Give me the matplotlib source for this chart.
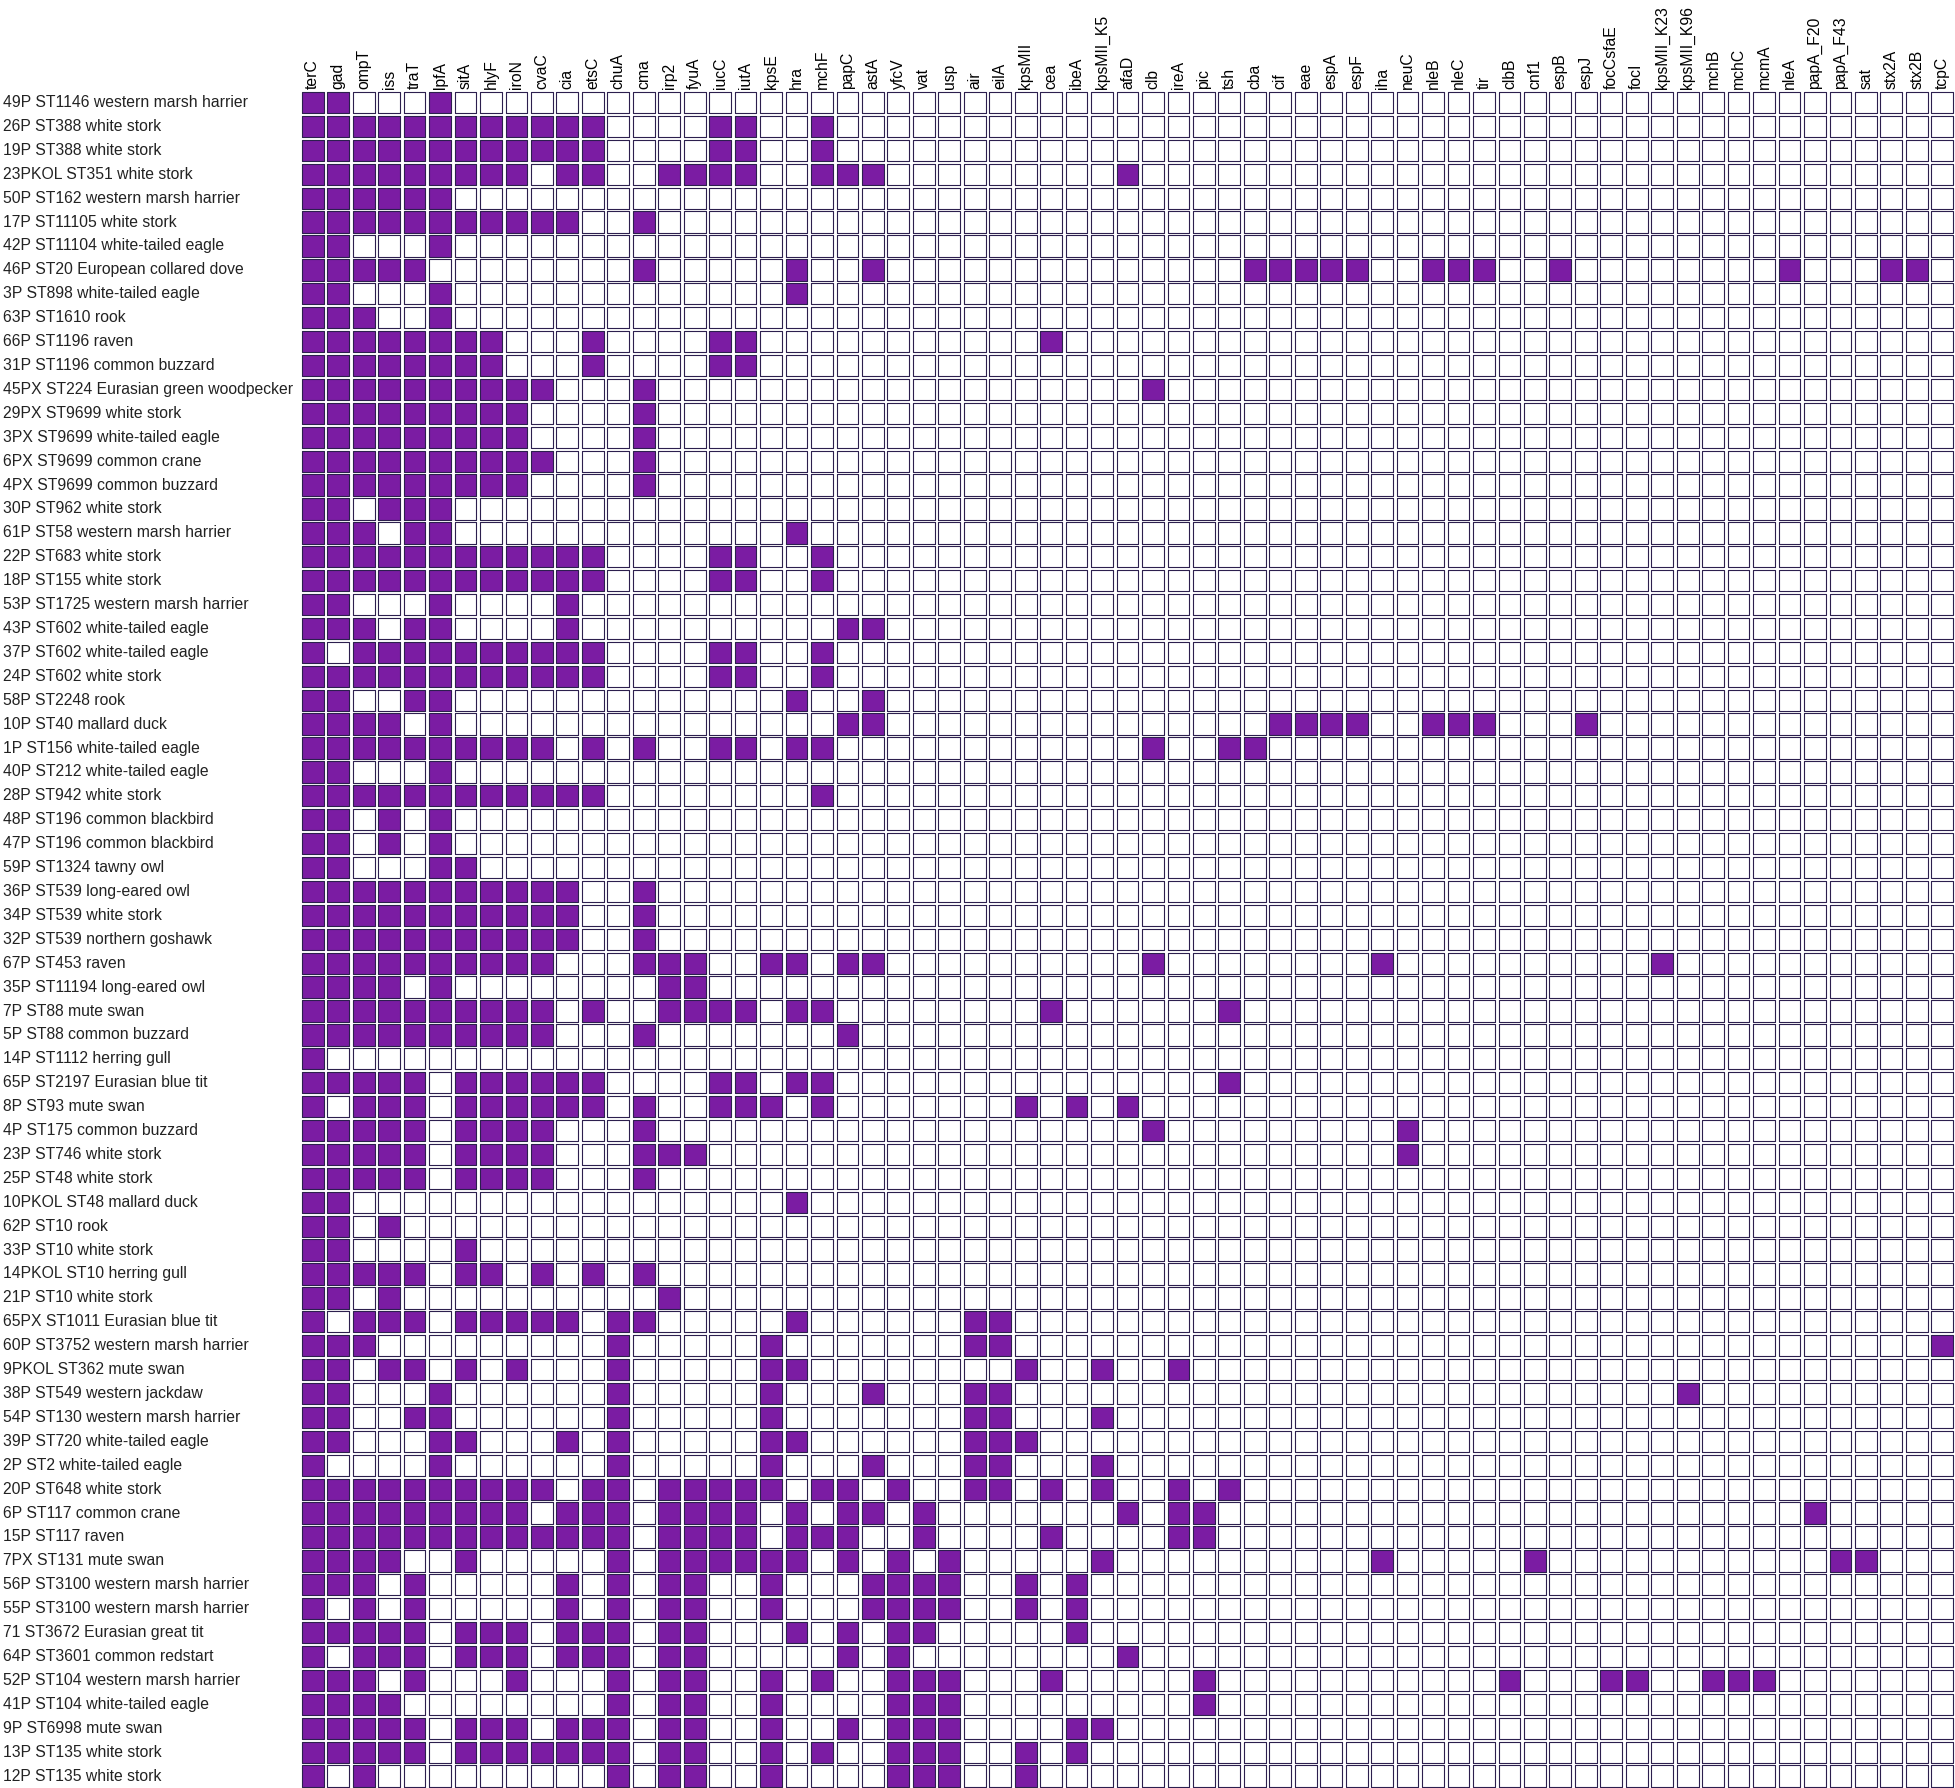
"""Virulence gene presence/absence grid for E. coli isolates from wild birds."""
import matplotlib

matplotlib.use("Agg")
import matplotlib.pyplot as plt  # noqa: E402
import matplotlib.transforms as mtransforms  # noqa: E402
import numpy as np  # noqa: E402
from matplotlib.collections import PatchCollection  # noqa: E402
from matplotlib.patches import Rectangle  # noqa: E402

plt.rcParams["font.family"] = ["Liberation Sans", "DejaVu Sans"]

genes = [
    "terC", "gad", "ompT", "iss", "traT", "lpfA", "sitA", "hlyF", "iroN", "cvaC",
    "cia", "etsC", "chuA", "cma", "irp2", "fyuA", "iucC", "iutA", "kpsE", "hra",
    "mchF", "papC", "astA", "yfcV", "vat", "usp", "air", "eilA", "kpsMII", "cea",
    "ibeA", "kpsMII_K5", "afaD", "clb", "ireA", "pic", "tsh", "cba", "cif", "eae",
    "espA", "espF", "iha", "neuC", "nleB", "nleC", "tir", "clbB", "cnf1", "espB",
    "espJ", "focCsfaE", "focI", "kpsMII_K23", "kpsMII_K96", "mchB", "mchC", "mcmA",
    "nleA", "papA_F20", "papA_F43", "sat", "stx2A", "stx2B", "tcpC",
]

isolates = [
    "49P ST1146 western marsh harrier",
    "26P ST388 white stork",
    "19P ST388 white stork",
    "23PKOL ST351 white stork",
    "50P ST162 western marsh harrier",
    "17P ST11105 white stork",
    "42P ST11104 white-tailed eagle",
    "46P ST20 European collared dove",
    "3P ST898 white-tailed eagle",
    "63P ST1610 rook",
    "66P ST1196 raven",
    "31P ST1196 common buzzard",
    "45PX ST224 Eurasian green woodpecker",
    "29PX ST9699 white stork",
    "3PX ST9699 white-tailed eagle",
    "6PX ST9699 common crane",
    "4PX ST9699 common buzzard",
    "30P ST962 white stork",
    "61P ST58 western marsh harrier",
    "22P ST683 white stork",
    "18P ST155 white stork",
    "53P ST1725 western marsh harrier",
    "43P ST602 white-tailed eagle",
    "37P ST602 white-tailed eagle",
    "24P ST602 white stork",
    "58P ST2248 rook",
    "10P ST40 mallard duck",
    "1P ST156 white-tailed eagle",
    "40P ST212 white-tailed eagle",
    "28P ST942 white stork",
    "48P ST196 common blackbird",
    "47P ST196 common blackbird",
    "59P ST1324 tawny owl",
    "36P ST539 long-eared owl",
    "34P ST539 white stork",
    "32P ST539 northern goshawk",
    "67P ST453 raven",
    "35P ST11194 long-eared owl",
    "7P ST88 mute swan",
    "5P ST88 common buzzard",
    "14P ST1112 herring gull",
    "65P ST2197 Eurasian blue tit",
    "8P ST93 mute swan",
    "4P ST175 common buzzard",
    "23P ST746 white stork",
    "25P ST48 white stork",
    "10PKOL ST48 mallard duck",
    "62P ST10 rook",
    "33P ST10 white stork",
    "14PKOL ST10 herring gull",
    "21P ST10 white stork",
    "65PX ST1011 Eurasian blue tit",
    "60P ST3752 western marsh harrier",
    "9PKOL ST362 mute swan",
    "38P ST549 western jackdaw",
    "54P ST130 western marsh harrier",
    "39P ST720 white-tailed eagle",
    "2P ST2 white-tailed eagle",
    "20P ST648 white stork",
    "6P ST117 common crane",
    "15P ST117 raven",
    "7PX ST131 mute swan",
    "56P ST3100 western marsh harrier",
    "55P ST3100 western marsh harrier",
    "71 ST3672 Eurasian great tit",
    "64P ST3601 common redstart",
    "52P ST104 western marsh harrier",
    "41P ST104 white-tailed eagle",
    "9P ST6998 mute swan",
    "13P ST135 white stork",
    "12P ST135 white stork",
]

# presence (1) / absence (0), one string per isolate, genes in blocks of five
presence = [
    "11000 10000 00000 00000 00000 00000 00000 00000 00000 00000 00000 00000 00000",
    "11111 11111 11000 01100 10000 00000 00000 00000 00000 00000 00000 00000 00000",
    "11111 11111 11000 01100 10000 00000 00000 00000 00000 00000 00000 00000 00000",
    "11111 11110 11001 11100 11100 00000 00100 00000 00000 00000 00000 00000 00000",
    "11111 10000 00000 00000 00000 00000 00000 00000 00000 00000 00000 00000 00000",
    "11111 11111 10010 00000 00000 00000 00000 00000 00000 00000 00000 00000 00000",
    "11000 10000 00000 00000 00000 00000 00000 00000 00000 00000 00000 00000 00000",
    "11111 00000 00010 00001 00100 00000 00000 00111 11001 11001 00000 00010 00110",
    "11000 10000 00000 00001 00000 00000 00000 00000 00000 00000 00000 00000 00000",
    "11100 10000 00000 00000 00000 00000 00000 00000 00000 00000 00000 00000 00000",
    "11111 11100 01000 01100 00000 00001 00000 00000 00000 00000 00000 00000 00000",
    "11111 11100 01000 01100 00000 00000 00000 00000 00000 00000 00000 00000 00000",
    "11111 11111 00010 00000 00000 00000 00010 00000 00000 00000 00000 00000 00000",
    "11111 11110 00010 00000 00000 00000 00000 00000 00000 00000 00000 00000 00000",
    "11111 11110 00010 00000 00000 00000 00000 00000 00000 00000 00000 00000 00000",
    "11111 11111 00010 00000 00000 00000 00000 00000 00000 00000 00000 00000 00000",
    "11111 11110 00010 00000 00000 00000 00000 00000 00000 00000 00000 00000 00000",
    "11011 10000 00000 00000 00000 00000 00000 00000 00000 00000 00000 00000 00000",
    "11101 10000 00000 00001 00000 00000 00000 00000 00000 00000 00000 00000 00000",
    "11111 11111 11000 01100 10000 00000 00000 00000 00000 00000 00000 00000 00000",
    "11111 11111 11000 01100 10000 00000 00000 00000 00000 00000 00000 00000 00000",
    "11000 10000 10000 00000 00000 00000 00000 00000 00000 00000 00000 00000 00000",
    "11101 10000 10000 00000 01100 00000 00000 00000 00000 00000 00000 00000 00000",
    "10111 11111 11000 01100 10000 00000 00000 00000 00000 00000 00000 00000 00000",
    "11111 11111 11000 01100 10000 00000 00000 00000 00000 00000 00000 00000 00000",
    "11001 10000 00000 00001 00100 00000 00000 00000 00000 00000 00000 00000 00000",
    "11110 10000 00000 00000 01100 00000 00000 00011 11001 11000 10000 00000 00000",
    "11111 11111 01010 01101 10000 00000 00010 01100 00000 00000 00000 00000 00000",
    "11000 10000 00000 00000 00000 00000 00000 00000 00000 00000 00000 00000 00000",
    "11111 11111 11000 00000 10000 00000 00000 00000 00000 00000 00000 00000 00000",
    "11010 10000 00000 00000 00000 00000 00000 00000 00000 00000 00000 00000 00000",
    "11010 10000 00000 00000 00000 00000 00000 00000 00000 00000 00000 00000 00000",
    "11000 11000 00000 00000 00000 00000 00000 00000 00000 00000 00000 00000 00000",
    "11111 11111 10010 00000 00000 00000 00000 00000 00000 00000 00000 00000 00000",
    "11111 11111 10010 00000 00000 00000 00000 00000 00000 00000 00000 00000 00000",
    "11111 11111 10010 00000 00000 00000 00000 00000 00000 00000 00000 00000 00000",
    "11111 11111 00011 10011 01100 00000 00010 00000 00100 00000 00010 00000 00000",
    "11110 10000 00001 10000 00000 00000 00000 00000 00000 00000 00000 00000 00000",
    "11111 11111 01001 11101 10000 00001 00000 01000 00000 00000 00000 00000 00000",
    "11111 11111 00010 00000 01000 00000 00000 00000 00000 00000 00000 00000 00000",
    "10000 00000 00000 00000 00000 00000 00000 00000 00000 00000 00000 00000 00000",
    "11111 01111 11000 01101 10000 00000 00000 01000 00000 00000 00000 00000 00000",
    "10111 01111 11010 01110 10000 00010 10100 00000 00000 00000 00000 00000 00000",
    "11111 01111 00010 00000 00000 00000 00010 00000 00010 00000 00000 00000 00000",
    "11111 01111 00011 10000 00000 00000 00000 00000 00010 00000 00000 00000 00000",
    "11111 01111 00010 00000 00000 00000 00000 00000 00000 00000 00000 00000 00000",
    "11000 00000 00000 00001 00000 00000 00000 00000 00000 00000 00000 00000 00000",
    "11010 00000 00000 00000 00000 00000 00000 00000 00000 00000 00000 00000 00000",
    "11000 01000 00000 00000 00000 00000 00000 00000 00000 00000 00000 00000 00000",
    "11111 01101 01010 00000 00000 00000 00000 00000 00000 00000 00000 00000 00000",
    "11010 00000 00001 00000 00000 00000 00000 00000 00000 00000 00000 00000 00000",
    "10111 01111 10110 00001 00000 01100 00000 00000 00000 00000 00000 00000 00000",
    "11100 00000 00100 00010 00000 01100 00000 00000 00000 00000 00000 00000 00001",
    "11011 01010 00100 00011 00000 00010 01001 00000 00000 00000 00000 00000 00000",
    "11000 10000 00100 00010 00100 01100 00000 00000 00000 00000 00001 00000 00000",
    "11001 10000 00100 00010 00000 01100 01000 00000 00000 00000 00000 00000 00000",
    "11000 11000 10100 00011 00000 01110 00000 00000 00000 00000 00000 00000 00000",
    "10000 10000 00100 00010 00100 01100 01000 00000 00000 00000 00000 00000 00000",
    "11111 11111 01101 11110 11010 01101 01001 01000 00000 00000 00000 00000 00000",
    "11111 11110 11101 11101 01101 00000 00101 10000 00000 00000 00000 00001 00000",
    "11111 11111 11101 11101 11001 00001 00001 10000 00000 00000 00000 00000 00000",
    "11110 01000 00101 11111 01010 10000 01000 00000 00100 00010 00000 00000 11000",
    "11101 00000 10101 10010 00111 10010 10000 00000 00000 00000 00000 00000 00000",
    "10101 00000 10101 10010 00111 10010 10000 00000 00000 00000 00000 00000 00000",
    "11111 01110 11101 10001 01011 00000 10000 00000 00000 00000 00000 00000 00000",
    "10111 01110 11101 10000 01010 00000 00100 00000 00000 00000 00000 00000 00000",
    "11101 00010 00101 10010 10011 10001 00000 10000 00000 00100 01100 11100 00000",
    "11110 00000 00101 10010 00011 10000 00000 10000 00000 00000 00000 00000 00000",
    "11111 01110 11101 10010 01011 10000 11000 00000 00000 00000 00000 00000 00000",
    "11111 01111 11101 10010 10011 10010 10000 00000 00000 00000 00000 00000 00000",
    "10100 00000 00101 10010 00011 10010 00000 00000 00000 00000 00000 00000 00000",
]

FILL = "#7b1ca3"
EDGE = "#2c1f4e"

W, H, DPI = 1955, 1788, 100
GRID_LEFT, GRID_TOP = 300, 90.6


def main() -> None:
    mat = np.array([[int(c) for c in row.replace(" ", "")] for row in presence])
    n_rows, n_cols = mat.shape

    fig = plt.figure(figsize=(W / DPI, H / DPI), dpi=DPI)
    ax = fig.add_axes([GRID_LEFT / W, 0, 1 - GRID_LEFT / W, 1 - GRID_TOP / H])

    gx, gy = 0.145, 0.11
    patches, colors = [], []
    for i in range(n_rows):
        for j in range(n_cols):
            patches.append(Rectangle((j + gx / 2, i + gy / 2), 1 - gx, 1 - gy))
            colors.append(FILL if mat[i, j] else "white")
    pc = PatchCollection(patches, facecolors=colors, edgecolors=EDGE, linewidths=0.8)
    ax.add_collection(pc)

    ax.set_xlim(0, n_cols)
    ax.set_ylim(n_rows, 0)
    for s in ax.spines.values():
        s.set_visible(False)

    ax.xaxis.tick_top()
    ax.set_xticks(np.arange(n_cols) + 0.5)
    ax.set_xticklabels(genes, rotation=90, fontsize=11.3)
    ax.tick_params(axis="x", length=0, pad=1.5)
    ax.set_yticks([])

    trans = mtransforms.blended_transform_factory(fig.transFigure, ax.transData)
    for i, name in enumerate(isolates):
        ax.text(3 / W, i + 0.5, name, transform=trans, ha="left", va="center",
                fontsize=11.3, color="#222222")

    fig.savefig("out.png", dpi=DPI, facecolor="white")
    plt.close(fig)


if __name__ == "__main__":
    main()
